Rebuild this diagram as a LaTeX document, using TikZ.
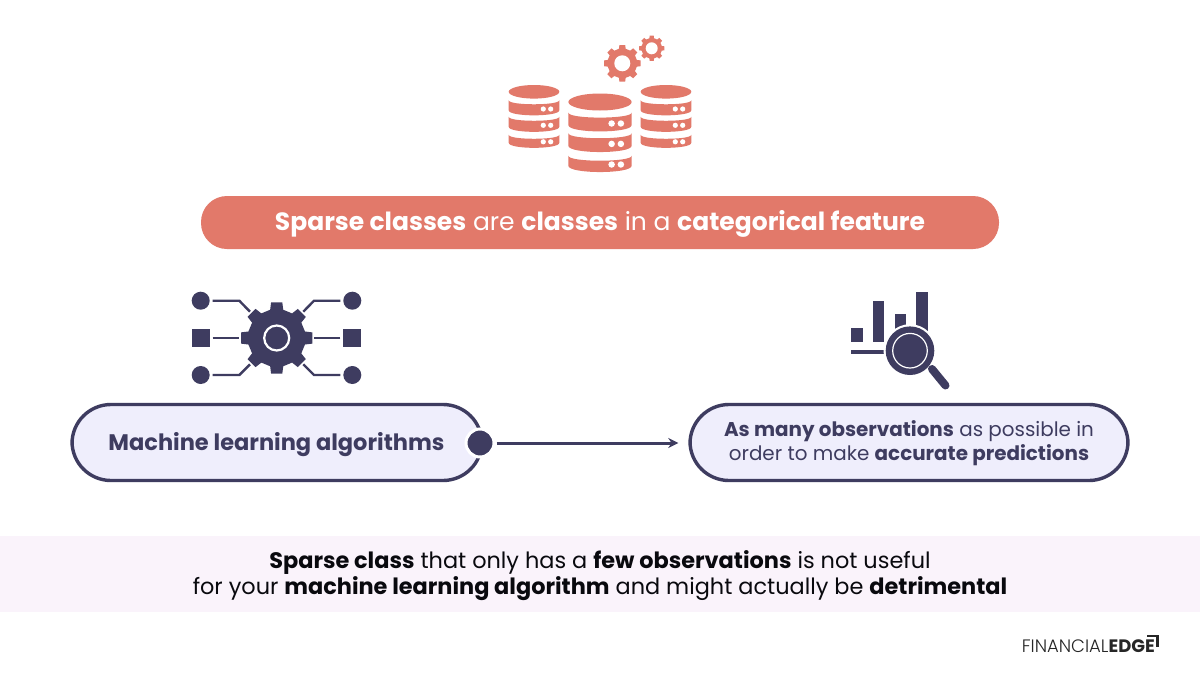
\documentclass[tikz,border=0pt]{standalone}
\usepackage{fontspec}
\setmainfont{Poppins}
\newfontfamily\logofont{Poppins Light}
\usetikzlibrary{arrows.meta}
\definecolor{salmon}{HTML}{E2796A}
\definecolor{navy}{HTML}{3E3C60}
\definecolor{lavender}{HTML}{EFEEFC}
\definecolor{blush}{HTML}{FAF3FB}
\tikzset{
  pillbox/.style={draw=navy,fill=lavender,line width=3.4pt,rounded corners=39pt,minimum height=76pt,inner sep=0pt},
  spoke/.style={draw=navy,line width=2.4pt},
  flowline/.style={draw=navy,line width=3pt,-{Stealth[length=10pt,width=10pt]}},
  bodytext/.style={font=\fontsize{19.9}{24}\selectfont,align=center,inner sep=0pt,text=navy},
  gearwheel/.pic={
    \fill[pic actions] (77:29) \foreach \a in {0,45,...,315}{
      -- (\a+77:29) -- (\a+81:36) -- (\a+99:36) -- (\a+103:29)} -- cycle;
  },
  dbstack/.pic={
    \fill[salmon] (0,0) circle[x radius=25.3,y radius=6.8];
    \foreach \ya/\yb/\yd in {8.5/18.5/17.2,25/35/33.5,43/51/50}{
      \fill[salmon] (-25.3,\ya) .. controls (-25.3,\ya+5.3) and (25.3,\ya+5.3) .. (25.3,\ya)
        -- (25.3,\yb) .. controls (25.3,\yb+6.7) and (-25.3,\yb+6.7) .. (-25.3,\yb) -- cycle;
      \fill[white] (9.3,\yd) circle (2.6) (16.7,\yd) circle (2.6);
    }
  }
}
\begin{document}
\begin{tikzpicture}[x=1pt,y=-1pt]
  \fill[white] (0,0) rectangle (1200,675);
  \useasboundingbox (0,0) rectangle (1200,675);
  % database icon
  \pic at (534,91.8) {dbstack};
  \pic at (666,91.8) {dbstack};
  \pic[scale=1.25] at (600,102) {dbstack};
  \pic[fill=salmon,scale=0.514] at (622.3,63.3) {gearwheel};
  \fill[white] (622.3,63.3) circle (8);
  \pic[fill=salmon,scale=0.356] at (651.7,48.3) {gearwheel};
  \fill[white] (651.7,48.3) circle (6);
  % banner
  \node[fill=salmon,rounded corners=26pt,minimum width=798pt,minimum height=53pt,inner sep=0pt] (banner) at (600,222.5) {};
  \node[bodytext,text=white,font=\fontsize{25}{30}\selectfont] (bannertext) at (600,224)
    {\textbf{Sparse classes} are \textbf{classes} in a \textbf{categorical feature}};
  % algorithm icon
  \pic[fill=navy] at (276.7,338) {gearwheel};
  \node[circle,draw=white,line width=2.2pt,fill=navy,minimum size=25pt,inner sep=0pt] (gearhub) at (276.7,338) {};
  \node[circle,fill=navy,minimum size=18pt,inner sep=0pt] (dotnw) at (200.7,300.7) {};
  \node[fill=navy,minimum size=18pt,inner sep=0pt] (boxw) at (200.7,338) {};
  \node[circle,fill=navy,minimum size=18pt,inner sep=0pt] (dotsw) at (200.7,375) {};
  \node[circle,fill=navy,minimum size=18pt,inner sep=0pt] (dotne) at (352.3,300.7) {};
  \node[fill=navy,minimum size=18pt,inner sep=0pt] (boxe) at (352.3,338) {};
  \node[circle,fill=navy,minimum size=18pt,inner sep=0pt] (dotse) at (352.3,375) {};
  \coordinate (gearnw) at (250,311.7);
  \coordinate (gearw) at (239,338);
  \coordinate (gearsw) at (250,364.3);
  \coordinate (gearne) at (303.3,311.7);
  \coordinate (geare) at (314,338);
  \coordinate (gearse) at (303.3,364.3);
  \draw[spoke] (dotnw) ++(12,0) -- (239.3,300.7) -- (gearnw);
  \draw[spoke] (boxw) ++(12,0) -- (gearw);
  \draw[spoke] (dotsw) ++(12,0) -- (239.3,375) -- (gearsw);
  \draw[spoke] (dotne) ++(-12,0) -- (314,300.7) -- (gearne);
  \draw[spoke] (boxe) ++(-12,0) -- (geare);
  \draw[spoke] (dotse) ++(-12,0) -- (314,375) -- (gearse);
  % chart icon
  \fill[navy] (851,327.7) rectangle (863,342.3);
  \fill[navy] (872.7,300.7) rectangle (884.3,342.3);
  \fill[navy] (894.7,314.3) rectangle (906,345);
  \fill[navy] (916,291.7) rectangle (928,345);
  \fill[navy] (851,350) rectangle (886,354.3);
  \coordinate (lensend) at (932,369);
  \coordinate (handleend) at (945.5,385.5);
  \fill[white] (910,350.7) circle (26.5);
  \draw[navy,line width=8pt,line cap=round] (lensend) -- (handleend);
  \node[circle,fill=navy,minimum size=48.6pt,inner sep=0pt] (lens) at (910,350.7) {};
  \draw[white,line width=1.2pt] (lens.center) circle (17.3);
  % pills
  \node[pillbox,minimum width=410pt] (algopill) at (277,442.5) {};
  \node[pillbox,minimum width=438pt] (obspill) at (909,442.5) {};
  \node[bodytext] (obstext) at (909,443.5)
    {\textbf{As many observations} as possible in\\order to make \textbf{accurate predictions}};
  \node[bodytext,font=\fontsize{22.5}{26}\selectfont] (algotext) at (276.5,444.5) {\textbf{Machine learning algorithms}};
  \node[circle,fill=navy,draw=white,line width=3pt,minimum size=28pt,inner sep=0pt] (algodot) at (480,443) {};
  \draw[flowline,shorten <=1pt,shorten >=10pt] (algodot) -- (algodot -| obspill.west);
  % footer
  \fill[blush] (0,536) rectangle (1200,612);
  \node[bodytext,text=black!85!navy,font=\fontsize{22.4}{26.5}\selectfont] (footnote) at (600,575.5)
    {\textbf{Sparse class} that only has a \textbf{few observations} is not useful\\
     for your \textbf{machine learning algorithm} and might actually be \textbf{detrimental}};
  % logo
  \node[anchor=east,inner sep=0pt,font=\fontsize{18}{20}\selectfont,text=black!85] (logo) at (1155,646)
    {{\logofont FINANCIAL}\textbf{EDGE}};
  \coordinate (markstart) at (1147,636);
  \coordinate (markcorner) at (1157.5,636);
  \coordinate (markend) at (1157.5,647);
  \draw[black!85,line width=2.2pt] (markstart) -- (markcorner) -- (markend);
\end{tikzpicture}
\end{document}
